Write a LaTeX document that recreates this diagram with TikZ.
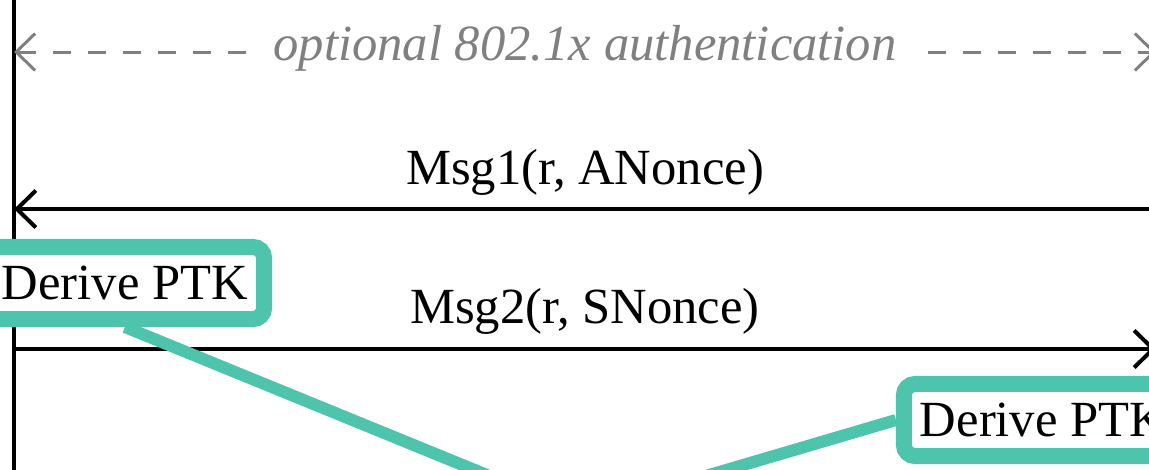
\documentclass[tikz,border=0pt]{standalone}
\usepackage{fontspec}
\setmainfont{Liberation Serif}
\usetikzlibrary{arrows.meta}

\definecolor{ptkteal}{RGB}{78,196,173}
\definecolor{authgray}{RGB}{128,128,128}

\begin{document}
\begin{tikzpicture}[x=0.01cm, y=-0.01cm]
\tikzset{ >={Straight Barb[length=0.19cm, width=0.37cm]},
  msg/.style={line width=0.04cm},
  lbl/.style={font=\fontsize{14.4}{17}\selectfont, inner sep=0pt},
  ptk/.style={draw=ptkteal, line width=0.16cm, fill=white, rounded corners=0.11cm,
    inner xsep=0.16cm, inner ysep=0.19cm, font=\fontsize{14.4}{17}\selectfont},
  link/.style={draw=ptkteal, line width=0.12cm} }

\useasboundingbox (0,0) rectangle (1149,469);
\clip (0,0) rectangle (1149,469);

%\draw [lightgray, dashed](0,0) grid (1149,469);

\coordinate (Ltop) at (14,-60);
\coordinate (Lbot) at (14,560);
\coordinate (Rtop) at (1156,-60);
\coordinate (Rbot) at (1156,560);

\coordinate (L0) at (14,52);
\coordinate (R0) at (1156,52);
\coordinate (L1) at (14,209);
\coordinate (R1) at (1156,209);
\coordinate (L2) at (14,349);
\coordinate (R2) at (1156,349);

\coordinate (K) at (580,513);

\draw [msg] (Ltop) -- (Lbot);
\draw [msg] (Rtop) -- (Rbot);

\draw [<->, authgray, line width=0.03cm, dash pattern=on 0.18cm off 0.17cm] (L0) -- node [lbl, fill=white, anchor=mid, inner xsep=0.22cm] {\itshape optional 802.1x authentication} (R0);
\draw [msg, <-] (L1) -- node [lbl, above=0.12cm] {Msg1(r, ANonce)} (R1);
\draw [msg, ->] (L2) -- node [lbl, above=0.13cm] {Msg2(r, SNonce)} (R2);

\node [ptk] (P1) at (125,283) {Derive PTK};
\node [ptk] (P2) at (1043,420) {Derive PTK};

\draw [link] (P1.south) -- (K);
\draw [link] (P2.west) -- (K);

\end{tikzpicture}
\end{document}
